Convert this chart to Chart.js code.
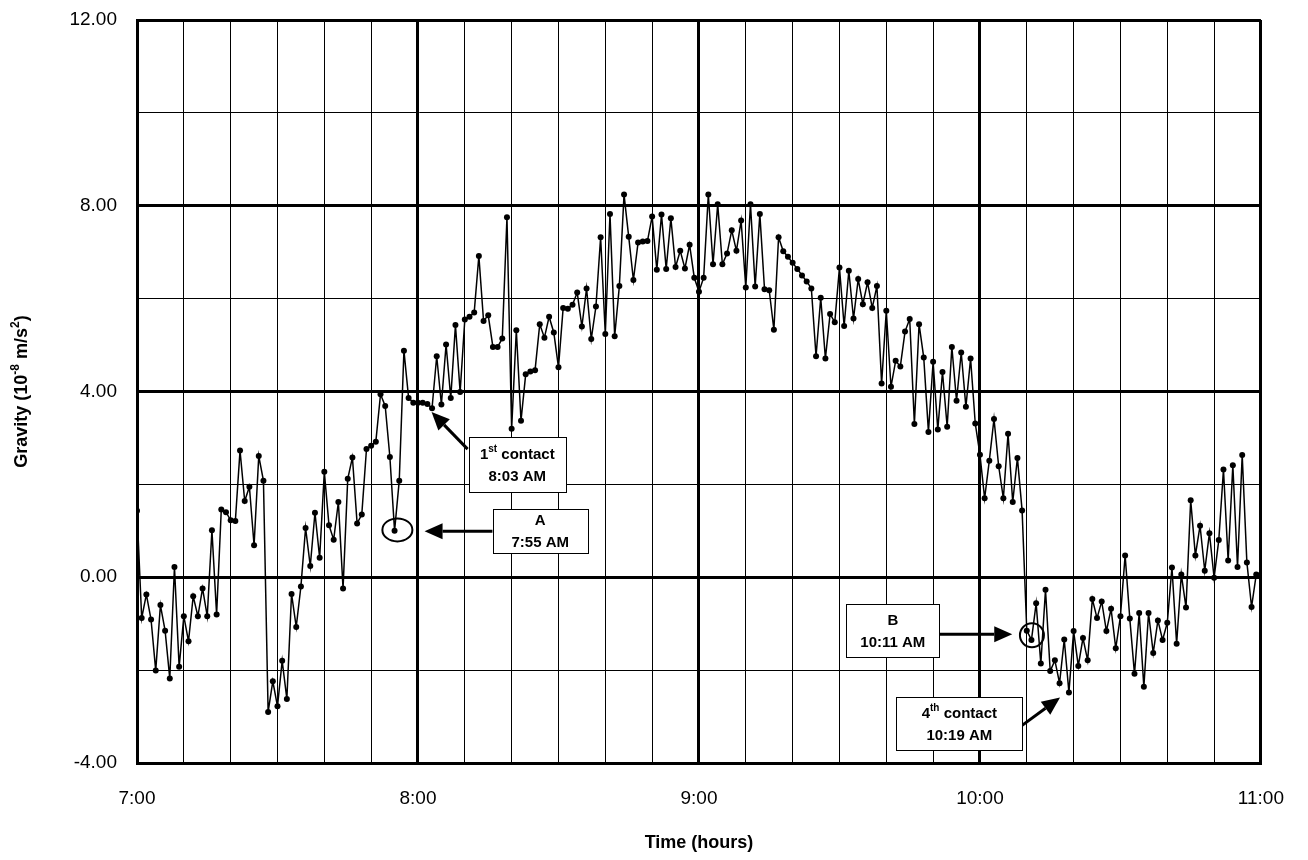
<!DOCTYPE html>
<html>
<head>
<meta charset="utf-8">
<script src="https://cdn.jsdelivr.net/npm/chart.js@4.4.0/dist/chart.umd.min.js"></script>
<style>
    html, body { margin: 0; padding: 0; background: #fff; }
    #wrap { width: 1308px; height: 860px; position: relative; }
</style>
</head>
<body>
<div id="wrap"><canvas id="gravity-chart"></canvas></div>
<script>
// Gravity readings, one per minute from 7:00 to 11:00 (10^-8 m/s^2)
const gravity = [
    1.43, -0.88, -0.37, -0.91, -2.01, -0.60, -1.15, -2.18, 0.22, -1.93,
    -0.84, -1.38, -0.41, -0.84, -0.24, -0.84, 1.01, -0.80, 1.46, 1.40,
    1.23, 1.21, 2.73, 1.64, 1.95, 0.69, 2.61, 2.08, -2.90, -2.24,
    -2.78, -1.80, -2.62, -0.36, -1.07, -0.20, 1.06, 0.24, 1.39, 0.42,
    2.27, 1.12, 0.81, 1.62, -0.24, 2.12, 2.58, 1.16, 1.35, 2.76,
    2.83, 2.92, 3.94, 3.69, 2.59, 1.00, 2.08, 4.88, 3.86, 3.76,
    3.76, 3.76, 3.73, 3.64, 4.76, 3.72, 5.01, 3.86, 5.43, 3.99,
    5.55, 5.61, 5.70, 6.92, 5.52, 5.64, 4.96, 4.96, 5.14, 7.75,
    3.20, 5.32, 3.37, 4.37, 4.43, 4.46, 5.45, 5.16, 5.61, 5.27,
    4.52, 5.80, 5.78, 5.87, 6.13, 5.40, 6.22, 5.13, 5.83, 7.32,
    5.24, 7.82, 5.19, 6.27, 8.24, 7.33, 6.40, 7.21, 7.23, 7.24,
    7.77, 6.62, 7.81, 6.64, 7.73, 6.68, 7.03, 6.65, 7.16, 6.45,
    6.15, 6.45, 8.24, 6.74, 8.03, 6.74, 6.97, 7.47, 7.03, 7.68,
    6.24, 8.03, 6.26, 7.82, 6.20, 6.18, 5.33, 7.32, 7.02, 6.90,
    6.77, 6.64, 6.50, 6.37, 6.22, 4.76, 6.02, 4.71, 5.67, 5.49,
    6.67, 5.41, 6.60, 5.57, 6.42, 5.88, 6.35, 5.80, 6.27, 4.17,
    5.74, 4.10, 4.66, 4.54, 5.29, 5.56, 3.30, 5.45, 4.73, 3.13,
    4.64, 3.18, 4.42, 3.24, 4.96, 3.80, 4.84, 3.67, 4.71, 3.31,
    2.64, 1.70, 2.51, 3.41, 2.39, 1.70, 3.09, 1.62, 2.57, 1.44,
    -1.15, -1.35, -0.56, -1.86, -0.27, -2.02, -1.79, -2.28, -1.34, -2.48,
    -1.16, -1.91, -1.31, -1.79, -0.47, -0.88, -0.52, -1.16, -0.68, -1.53,
    -0.84, 0.47, -0.89, -2.08, -0.77, -2.36, -0.77, -1.63, -0.93, -1.35,
    -0.98, 0.21, -1.43, 0.06, -0.65, 1.66, 0.47, 1.11, 0.14, 0.95,
    -0.01, 0.80, 2.32, 0.36, 2.41, 0.22, 2.63, 0.32, -0.64, 0.06,
    0.06
];

// Tick labels
const hourLabels = ['7:00', '8:00', '9:00', '10:00', '11:00'];
const gravityTicks = [-4, 0, 4, 8, 12];
const gravityTickLabels = ['-4.00', '0.00', '4.00', '8.00', '12.00'];

const FONT = "'Liberation Sans', Arial, sans-serif";

// Callouts, placed in data units (minutes after 7:00, gravity)
const circles = [
    { x: 55.6, y: 1.02, rx: 15, ry: 11.5 },
    { x: 191.1, y: -1.25, rx: 12, ry: 12 }
];
const arrows = [
    { from: [75.9, 0.99], to: [61.4, 0.99] },
    { from: [70.6, 2.76], to: [62.9, 3.56] },
    { from: [171.3, -1.23], to: [186.9, -1.23] },
    { from: [189.0, -3.19], to: [197.1, -2.59] }
];
const boxes = [
    { x: 86.1, y: 0.99, w: 95, h: 44, lines: [[['A']], [['7:55 AM']]] },
    { x: 81.2, y: 2.42, w: 97, h: 55, lines: [[['1'], ['st', true], [' contact']], [['8:03 AM']]] },
    { x: 161.4, y: -1.15, w: 93, h: 53, lines: [[['B']], [['10:11 AM']]] },
    { x: 175.6, y: -3.16, w: 126, h: 53, lines: [[['4'], ['th', true], [' contact']], [['10:19 AM']]] }
];

function drawRich(ctx, parts, cx, cy, size) {
    const supSize = Math.round(size * 0.65);
    let total = 0;
    parts.forEach(p => {
        ctx.font = `bold ${p[1] ? supSize : size}px ${FONT}`;
        total += ctx.measureText(p[0]).width;
    });
    let x = cx - total / 2;
    ctx.textAlign = 'left';
    ctx.textBaseline = 'middle';
    parts.forEach(p => {
        ctx.font = `bold ${p[1] ? supSize : size}px ${FONT}`;
        ctx.fillText(p[0], x, p[1] ? cy - size * 0.35 : cy);
        x += ctx.measureText(p[0]).width;
    });
}

function drawArrow(ctx, x1, y1, x2, y2) {
    const ang = Math.atan2(y2 - y1, x2 - x1);
    const headLen = 18, headHalf = 8;
    const bx = x2 - headLen * Math.cos(ang);
    const by = y2 - headLen * Math.sin(ang);
    ctx.beginPath();
    ctx.moveTo(x1, y1);
    ctx.lineTo(bx, by);
    ctx.lineWidth = 3;
    ctx.stroke();
    ctx.beginPath();
    ctx.moveTo(x2, y2);
    ctx.lineTo(bx + headHalf * Math.sin(ang), by - headHalf * Math.cos(ang));
    ctx.lineTo(bx - headHalf * Math.sin(ang), by + headHalf * Math.cos(ang));
    ctx.closePath();
    ctx.fill();
}

const calloutPlugin = {
    id: 'callouts',
    afterDatasetsDraw(chart) {
        const ctx = chart.ctx;
        const xs = chart.scales.x, ys = chart.scales.y;
        ctx.save();
        ctx.strokeStyle = '#000';
        ctx.fillStyle = '#000';

        circles.forEach(c => {
            ctx.beginPath();
            ctx.ellipse(xs.getPixelForValue(c.x), ys.getPixelForValue(c.y), c.rx, c.ry, 0, 0, Math.PI * 2);
            ctx.lineWidth = 2;
            ctx.stroke();
        });

        arrows.forEach(a => {
            drawArrow(ctx,
                xs.getPixelForValue(a.from[0]), ys.getPixelForValue(a.from[1]),
                xs.getPixelForValue(a.to[0]), ys.getPixelForValue(a.to[1]));
        });

        boxes.forEach(b => {
            const cx = xs.getPixelForValue(b.x);
            const cy = ys.getPixelForValue(b.y);
            const left = Math.round(cx - b.w / 2) + 0.5;
            const top = Math.round(cy - b.h / 2) + 0.5;
            ctx.fillStyle = '#fff';
            ctx.fillRect(left, top, b.w, b.h);
            ctx.lineWidth = 1;
            ctx.strokeRect(left, top, b.w, b.h);
            ctx.fillStyle = '#000';
            drawRich(ctx, b.lines[0], cx, cy - 10, 15);
            drawRich(ctx, b.lines[1], cx, cy + 12, 15);
        });
        ctx.restore();
    },
    afterDraw(chart) {
        const ctx = chart.ctx;
        const area = chart.chartArea;
        ctx.save();
        ctx.fillStyle = '#000';
        // x axis title
        ctx.font = `bold 18px ${FONT}`;
        ctx.textAlign = 'center';
        ctx.textBaseline = 'middle';
        ctx.fillText('Time (hours)', (area.left + area.right) / 2, 843);
        // y axis title with superscripts
        ctx.translate(22, (area.top + area.bottom) / 2);
        ctx.rotate(-Math.PI / 2);
        drawRich(ctx, [['Gravity (10'], ['-8', true], [' m/s'], ['2', true], [')']], 0, 0, 18);
        ctx.restore();
    }
};

new Chart(document.getElementById('gravity-chart').getContext('2d'), {
    type: 'line',
    data: {
        datasets: [{
            data: gravity.map((v, i) => ({ x: i, y: v })),
            borderColor: '#000',
            backgroundColor: '#000',
            borderWidth: 1.5,
            pointRadius: 3,
            pointHoverRadius: 3,
            pointBorderWidth: 0,
            tension: 0
        }]
    },
    options: {
        responsive: true,
        maintainAspectRatio: false,
        animation: false,
        layout: { padding: { left: 0, right: 46, top: 20, bottom: 0 } },
        plugins: {
            legend: { display: false },
            tooltip: { enabled: false }
        },
        scales: {
            x: {
                type: 'linear',
                min: 0,
                max: 240,
                afterFit: s => { s.height = 97; },
                border: { display: true, color: '#000', width: 3 },
                grid: {
                    color: '#000',
                    drawTicks: false,
                    lineWidth: c => (c.tick && c.tick.value % 60 === 0 ? 3 : 1)
                },
                ticks: {
                    stepSize: 10,
                    autoSkip: false,
                    maxRotation: 0,
                    padding: 24,
                    color: '#000',
                    font: { family: FONT, size: 19 },
                    callback: v => (v % 60 === 0 ? hourLabels[v / 60] : '')
                }
            },
            y: {
                min: -4,
                max: 12,
                afterFit: s => {
                    s.width = 137;
                    s.paddingTop = 0;
                    s.paddingBottom = 0;
                },
                border: { display: true, color: '#000', width: 3 },
                grid: {
                    color: '#000',
                    drawTicks: false,
                    lineWidth: c => (c.tick && c.tick.value % 4 === 0 ? 3 : 1)
                },
                ticks: {
                    stepSize: 2,
                    padding: 20,
                    color: '#000',
                    font: { family: FONT, size: 19 },
                    callback: v => {
                        const i = gravityTicks.indexOf(v);
                        return i >= 0 ? gravityTickLabels[i] : '';
                    }
                }
            }
        }
    },
    plugins: [calloutPlugin]
});
</script>
</body>
</html>
